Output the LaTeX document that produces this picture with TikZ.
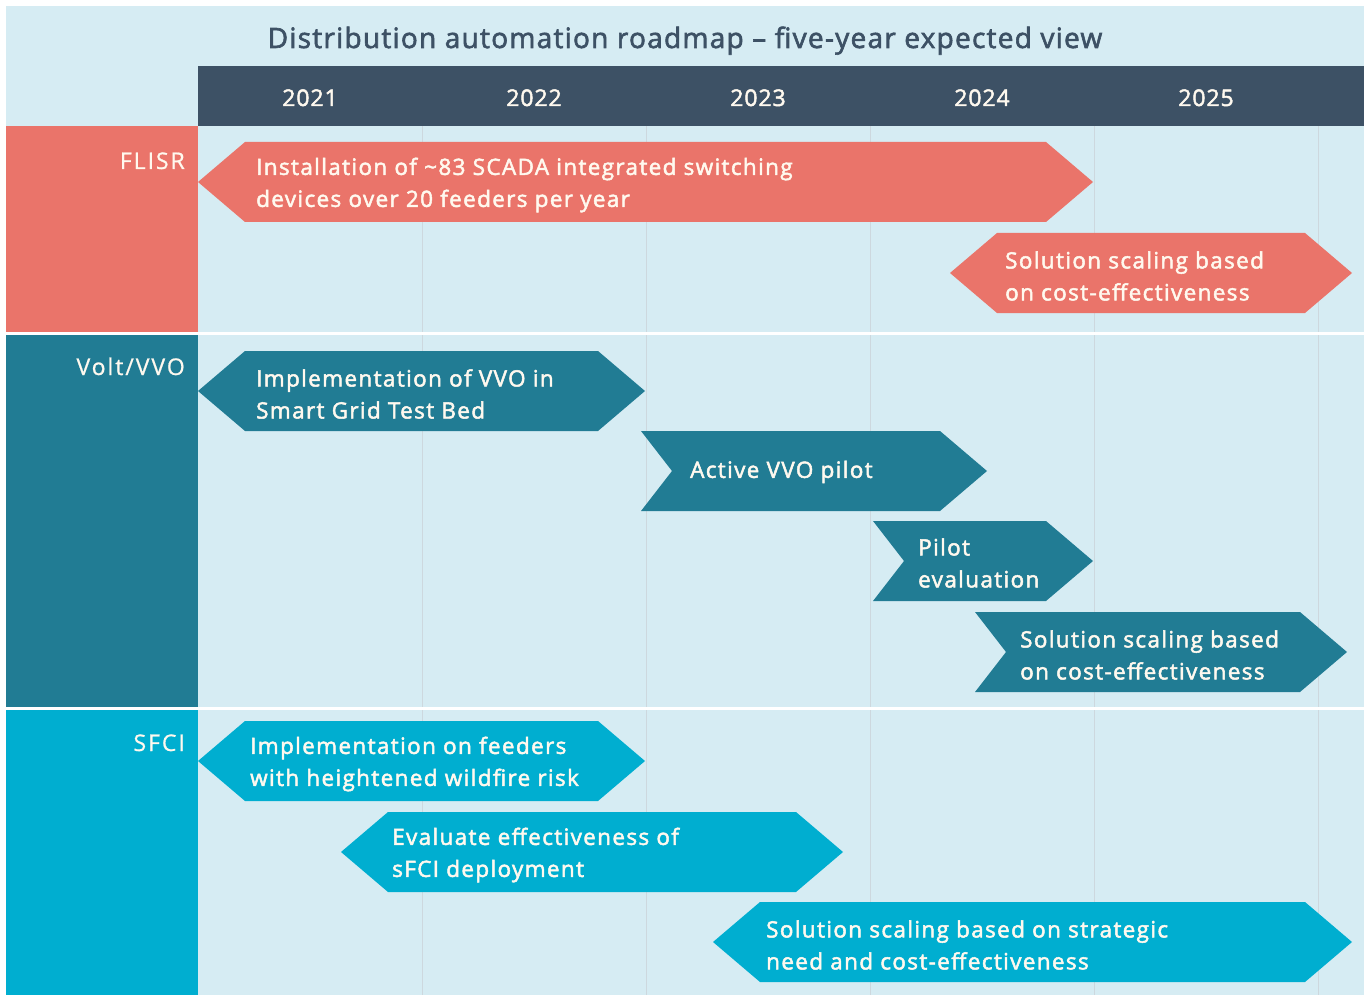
\documentclass[tikz,border=0pt]{standalone}
\usepackage{fontspec}
\setmainfont{Open Sans}
\newfontfamily\boxfont{Open Sans}[FakeBold=2.2,LetterSpace=6]
\newfontfamily\lblfont{Open Sans}[FakeBold=0.8,LetterSpace=8.5]
\newfontfamily\yrfont{Open Sans}[FakeBold=2,LetterSpace=4]
\newfontfamily\titlefont{Open Sans}[FakeBold=2.2,LetterSpace=4.5]
\definecolor{bgblue}{HTML}{D6ECF3}
\definecolor{hdr}{HTML}{3D5165}
\definecolor{salmon}{HTML}{EA746A}
\definecolor{tealc}{HTML}{217C94}
\definecolor{cyanc}{HTML}{00AED0}
\definecolor{gridc}{HTML}{CDD8DE}
\definecolor{cream}{HTML}{FFF9EF}
\newcommand{\hexbox}[4]{%
  \fill[#4] (#1,#3) -- (#1+47,#3-40) -- (#2-47,#3-40) -- (#2,#3) -- (#2-47,#3+40) -- (#1+47,#3+40) -- cycle;}
\newcommand{\chevbox}[4]{%
  \fill[#4] (#1,#3-40) -- (#2-47,#3-40) -- (#2,#3) -- (#2-47,#3+40) -- (#1,#3+40) -- (#1+31,#3) -- cycle;}
\begin{document}
\begin{tikzpicture}[x=1pt,y=-1pt,
  boxtxt/.style={anchor=west,align=left,text=cream,font=\boxfont\fontsize{22.5}{32}\selectfont,inner sep=0pt},
  lbl/.style={anchor=base east,text=cream,font=\lblfont\fontsize{23}{28}\selectfont,inner sep=0pt},
  yr/.style={anchor=base,text=cream,font=\yrfont\fontsize{23}{28}\selectfont,inner sep=0pt},
  gridline/.style={draw=gridc,line width=1pt}]
\useasboundingbox (0,0) rectangle (1368,995);
\fill[white] (0,0) rectangle (1368,995);
\fill[bgblue] (6,6) rectangle (1364,995);
% grid lines
\foreach \x in {422,646,870,1094,1318} \draw[gridline] (\x,126) -- (\x,995);
% header
\fill[hdr] (198,66) rectangle (1364,126);
\node[anchor=base,text=hdr,font=\titlefont\fontsize{28}{32}\selectfont,inner sep=0pt] (title) at (685,48) {Distribution automation roadmap \textendash{} five-year expected view};
\node[yr] (y1) at (310,106) {2021};
\node[yr] (y2) at (534,106) {2022};
\node[yr] (y3) at (758,106) {2023};
\node[yr] (y4) at (982,106) {2024};
\node[yr] (y5) at (1206,106) {2025};
% row label blocks
\fill[salmon] (6,126) rectangle (198,332);
\fill[tealc] (6,335) rectangle (198,707);
\fill[cyanc] (6,710) rectangle (198,995);
\fill[white] (6,332) rectangle (1364,335);
\fill[white] (6,707) rectangle (1364,710);
\node[lbl] (lflisr) at (185,169) {FLISR};
\node[lbl] (lvolt) at (185,375) {Volt/VVO};
\node[lbl] (lsfci) at (185,751) {SFCI};
% FLISR
\hexbox{198}{1093}{182}{salmon}
\node[boxtxt] (f1) at (256,185) {Installation of \textasciitilde83 SCADA integrated switching\\devices over 20 feeders per year};
\hexbox{950}{1352}{273}{salmon}
\node[boxtxt] (f2) at (1005,276) {Solution scaling based\\on cost-effectiveness};
% Volt/VVO
\hexbox{198}{645}{391}{tealc}
\node[boxtxt] (v1) at (256,394) {Implementation of VVO in\\Smart Grid Test Bed};
\chevbox{641}{987}{471}{tealc}
\node[boxtxt] (v2) at (690,472) {Active VVO pilot};
\chevbox{873}{1093}{561}{tealc}
\node[boxtxt] (v3) at (918,563) {Pilot\\evaluation};
\chevbox{975}{1347}{652}{tealc}
\node[boxtxt] (v4) at (1020,655) {Solution scaling based\\on cost-effectiveness};
% SFCI
\hexbox{198}{645}{761}{cyanc}
\node[boxtxt] (s1) at (250,764) {Implementation on feeders\\with heightened wildfire risk};
\hexbox{341}{843}{852}{cyanc}
\node[boxtxt] (s2) at (392,855) {Evaluate effectiveness of\\sFCI deployment};
\hexbox{713}{1352}{942}{cyanc}
\node[boxtxt] (s3) at (766,945) {Solution scaling based on strategic\\need and cost-effectiveness};
\end{tikzpicture}
\end{document}
